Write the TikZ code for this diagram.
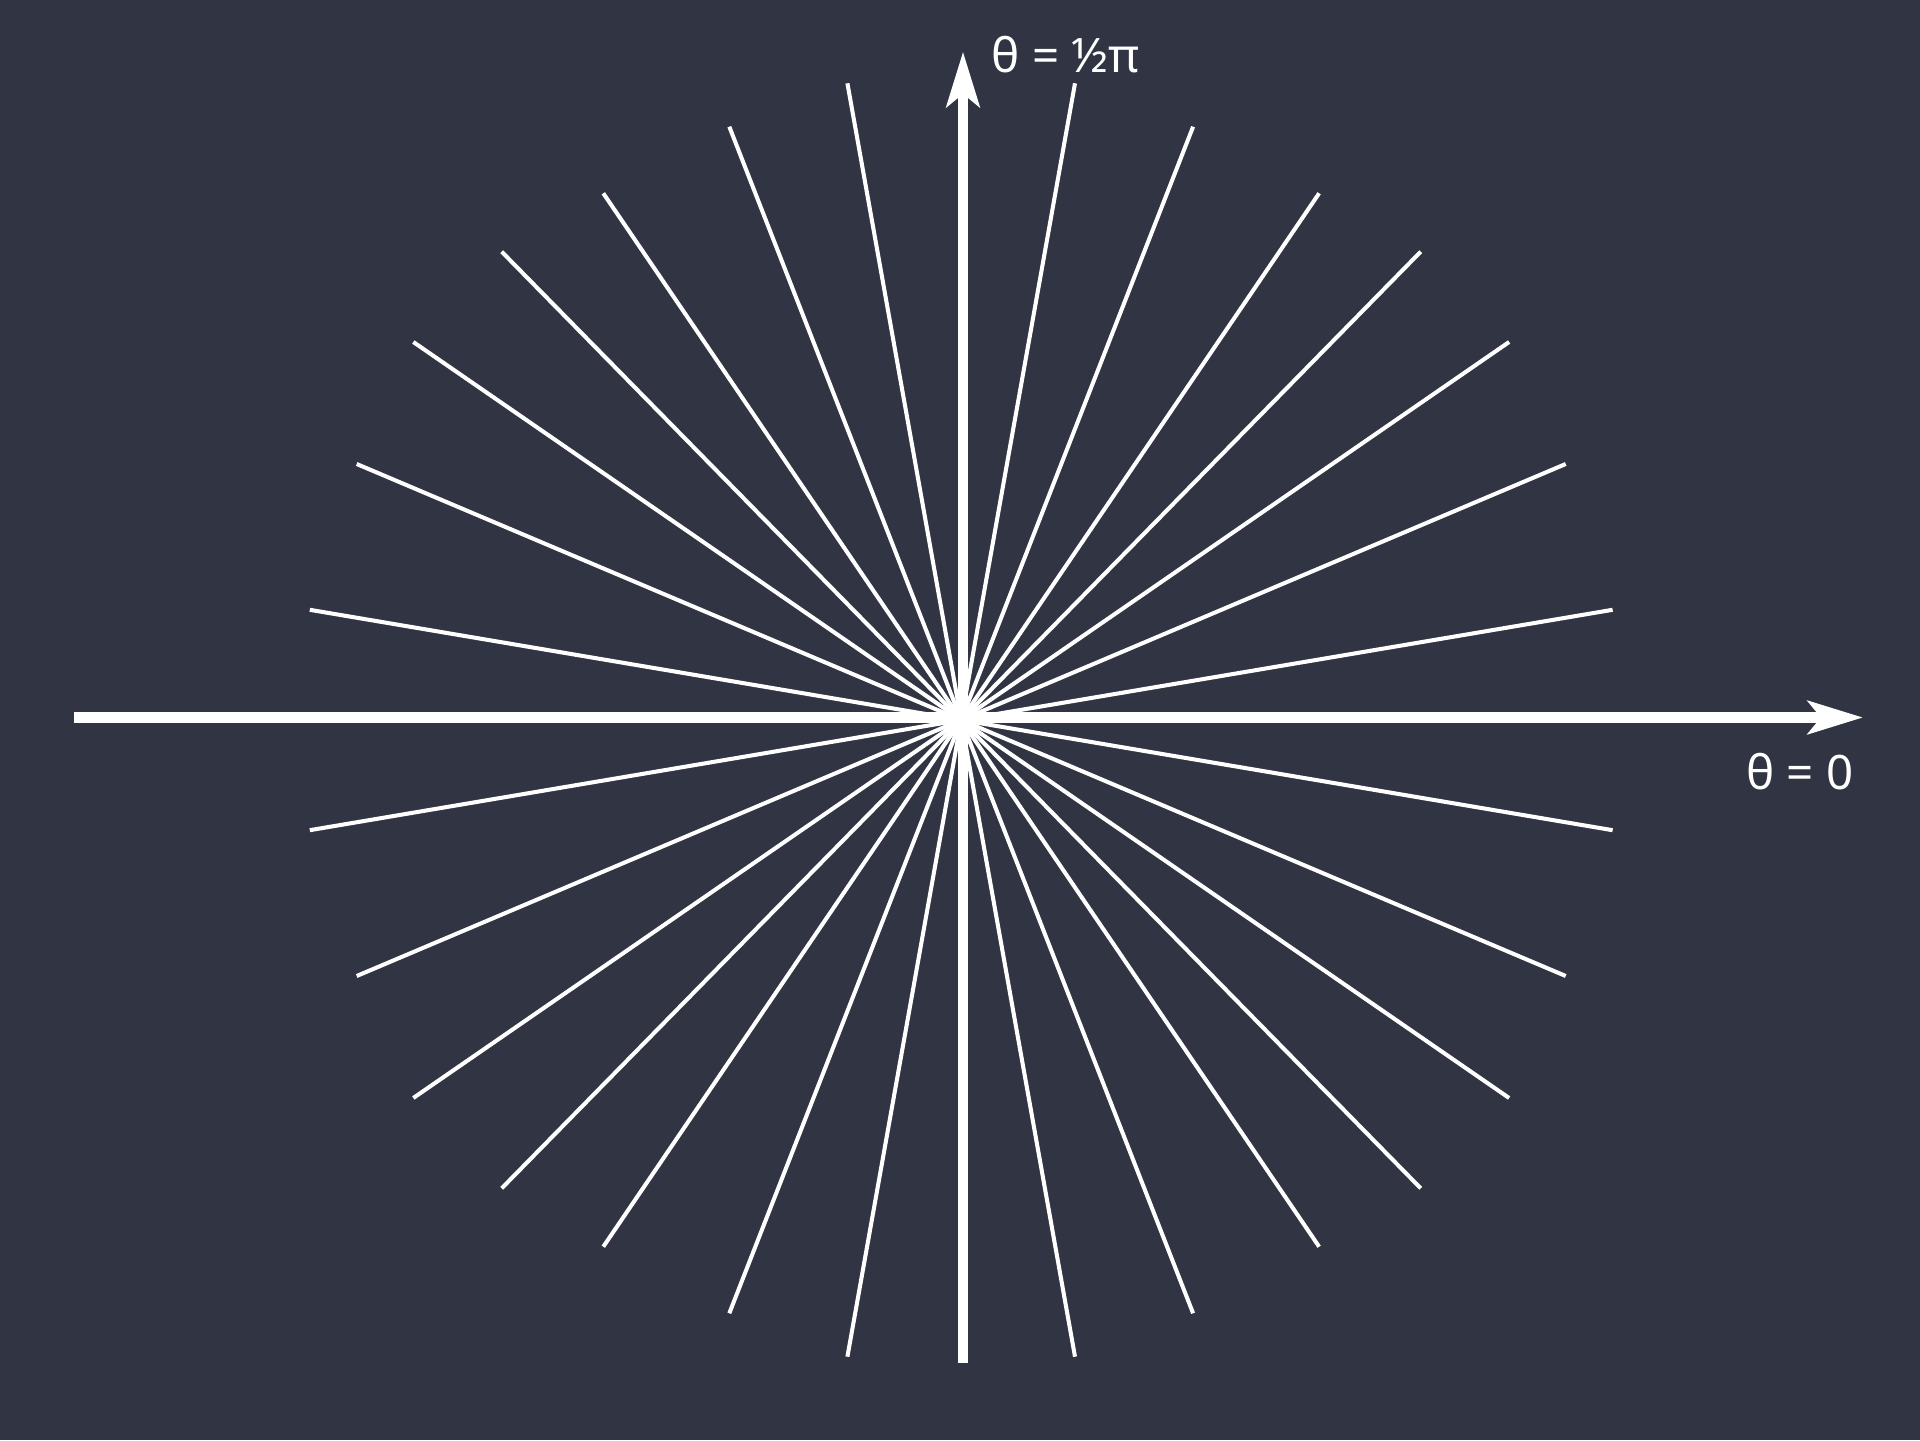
\documentclass[tikz,border=0pt]{standalone}
\usepackage{fontspec}
\setmainfont{Noto Sans}
\usetikzlibrary{arrows.meta,calc}
\definecolor{bg}{RGB}{49,52,66}
\definecolor{fg}{RGB}{255,255,255}
\begin{document}
\begin{tikzpicture}[
  ray/.style={draw=fg, line width=1.15pt},
  axis/.style={draw=fg, line width=2.9pt, -{Stealth[length=5.5mm,width=3.3mm,inset=1.3mm]}},
  lbl/.style={text=fg, font=\fontsize{13.5}{16}\selectfont, inner sep=0pt}
]
\fill[bg] (0,0) rectangle (19.2,14.4);
\useasboundingbox (0,0) rectangle (19.2,14.4);
\coordinate (O) at (9.612,7.20);
% rays: relative endpoints (upper-left quadrant), mirrored
\foreach \i/\dx/\dy in {1/1.138/6.367, 2/2.319/5.933, 3/3.579/5.267, 4/4.595/4.683, 5/5.479/3.78, 6/6.045/2.56, 7/6.514/1.102}{
  \coordinate (a\i) at ($(O)+(-\dx,\dy)$);
  \coordinate (b\i) at ($(O)+(\dx,\dy)$);
  \coordinate (c\i) at ($(O)+(-\dx,-\dy)$);
  \coordinate (d\i) at ($(O)+(\dx,-\dy)$);
  \draw[ray] (c\i) -- (b\i);
  \draw[ray] (d\i) -- (a\i);
}
\coordinate (xs) at (0.743,7.225);
\coordinate (xe) at (18.63,7.225);
\coordinate (ys) at (9.63,0.767);
\coordinate (ye) at (9.63,13.883);
\draw[axis] (xs) -- (xe);
\draw[axis] (ys) -- (ye);
\node[lbl] (lt) at (10.655,13.85) {θ = ½π};
\node[lbl] (lr) at (17.997,6.68) {θ = 0};
\end{tikzpicture}
\end{document}
